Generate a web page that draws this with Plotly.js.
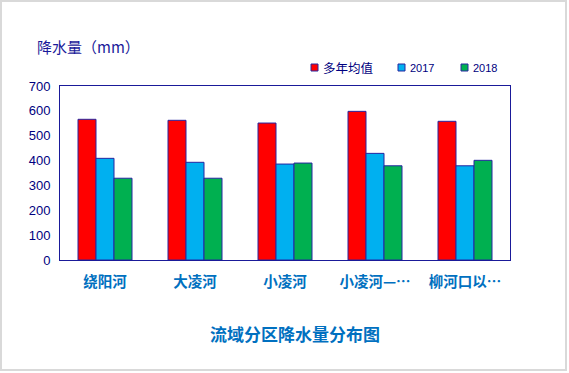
<!DOCTYPE html>
<html><head><meta charset="utf-8">
<script src="https://cdn.plot.ly/plotly-3.0.1.min.js"></script>
<style>
html,body{margin:0;padding:0;background:#fff;}
#wrap{position:relative;width:569px;height:373px;}
#frame{position:absolute;left:0;top:0;width:567px;height:371px;border:2px solid #d9d9d9;box-sizing:border-box;pointer-events:none;}
#chart{position:absolute;left:0;top:0;width:569px;height:373px;}
</style></head>
<body><div id="wrap"><div id="chart"></div><div id="frame"></div></div>
<script>
const categories = ["绕阳河", "大凌河", "小凌河", "小凌河—…", "柳河口以…"];
const seriesNames = ["多年均值", "2017", "2018"];
const avgValues = [566, 562, 551, 598, 558];
const v2017 = [409, 393, 386, 429, 379];
const v2018 = [329, 329, 390, 379, 401];
const yTicks = [0, 100, 200, 300, 400, 500, 600, 700];

const colors = ["#FF0000", "#00B0F0", "#00B050"];
const allValues = [avgValues, v2017, v2018];
const font = "'Noto Sans CJK SC', 'Liberation Sans', sans-serif";

const data = allValues.map((vals, i) => ({
  type: "bar",
  name: seriesNames[i],
  x: categories,
  y: vals,
  marker: {color: colors[i], line: {color: "#2626a0", width: 1}},
  hoverinfo: "x+y"
}));

// legend drawn manually (paper coordinates; plot area 60..510 x, 86..260 y)
const W = 450, H = 174, L = 60, T = 86;
const px = x => (x - L) / W;
const py = y => (T + H - y) / H;
const legX = [311, 398, 461];
const legY = 67.5;
const shapes = [], annotations = [];
legX.forEach((x, i) => {
  shapes.push({type: "rect", xref: "paper", yref: "paper",
    x0: px(x), x1: px(x + 7), y0: py(legY + 3.5), y1: py(legY - 3.5),
    fillcolor: colors[i], line: {color: "#2626a0", width: 1}});
  annotations.push({text: seriesNames[i], xref: "paper", yref: "paper",
    x: px(x + 10), y: py(legY), xanchor: "left", yanchor: "middle", showarrow: false,
    font: {family: i === 0 ? font : "'Liberation Sans', sans-serif", size: i === 0 ? 12.5 : 11, color: "#000080"}});
});
annotations.push(
  {text: "降水量（mm）", xref: "paper", yref: "paper", x: -0.055, y: 1.225,
    xanchor: "left", yanchor: "middle", showarrow: false,
    font: {family: font, size: 15, color: "#1a1a9a"}},
  {text: "<b>流域分区降水量分布图</b>", xref: "paper", yref: "paper", x: 0.523, y: -0.425,
    xanchor: "center", yanchor: "middle", showarrow: false,
    font: {family: font, size: 17, color: "#0070C0"}}
);

const layout = {
  width: 569, height: 373,
  margin: {l: 60, r: 59, t: 86, b: 113},
  paper_bgcolor: "#fff", plot_bgcolor: "#fff",
  barmode: "group", bargap: 0.4, bargroupgap: 0,
  showlegend: false,
  xaxis: {type: "category", showline: true, linecolor: "#1a1a99", linewidth: 1, mirror: true,
    ticks: "", showgrid: false, zeroline: false, ticklabelstandoff: 9,
    tickfont: {family: font, size: 14.5, color: "#0070C0", weight: "bold"}},
  yaxis: {range: [0, 700], tickvals: yTicks, showline: true, linecolor: "#1a1a99", linewidth: 1,
    mirror: true, ticks: "", showgrid: false, zeroline: false, ticklabelstandoff: 6,
    tickfont: {family: "'Liberation Sans', sans-serif", size: 13, color: "#000080"}},
  shapes: shapes,
  annotations: annotations
};

Plotly.newPlot("chart", data, layout, {displayModeBar: false, staticPlot: true});
</script></body></html>
